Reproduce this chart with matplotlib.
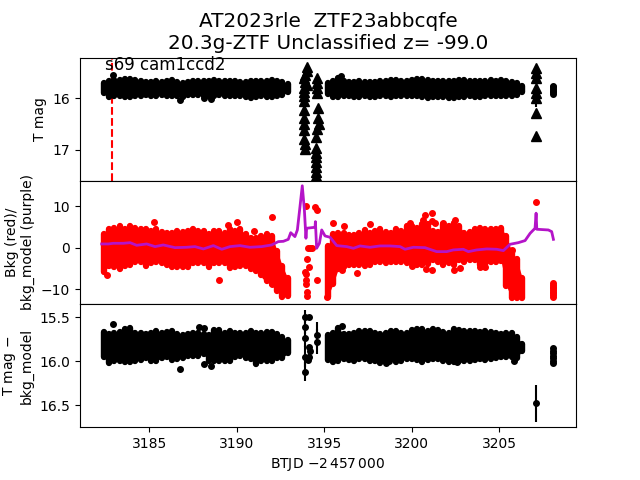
import matplotlib
matplotlib.use('Agg')
import matplotlib.pyplot as plt

#Time bins for the two orbits (values below are the edges of the dense cloud in each bin)
t1 = [3182.4, 3182.7, 3183.0, 3183.3, 3183.6, 3183.9, 3184.2, 3184.5, 3184.8, 3185.1, 3185.4, 3185.7,
      3186.0, 3186.3, 3186.6, 3186.9, 3187.2, 3187.5, 3187.8, 3188.1, 3188.4, 3188.7, 3189.0, 3189.3,
      3189.6, 3189.9, 3190.2, 3190.5, 3190.8, 3191.1, 3191.4, 3191.7, 3192.0, 3192.3, 3192.6, 3192.9]
t2 = [3195.2, 3195.5, 3195.8, 3196.1, 3196.4, 3196.7, 3197.0, 3197.3, 3197.6, 3197.9, 3198.2, 3198.5,
      3198.8, 3199.1, 3199.4, 3199.7, 3200.0, 3200.3, 3200.6, 3200.9, 3201.2, 3201.5, 3201.8, 3202.1,
      3202.4, 3202.7, 3203.0, 3203.3, 3203.6, 3203.9, 3204.2, 3204.5, 3204.8, 3205.1, 3205.4, 3205.7,
      3206.0, 3206.3]

#Top panel: T mag
mag_hi1 = [15.70, 15.67, 15.65, 15.64, 15.63, 15.62, 15.64, 15.67, 15.68, 15.68, 15.67, 15.68,
           15.66, 15.65, 15.68, 15.70, 15.69, 15.67, 15.67, 15.66, 15.66, 15.65, 15.66, 15.67,
           15.66, 15.67, 15.68, 15.68, 15.67, 15.66, 15.67, 15.66, 15.65, 15.67, 15.68, 15.73]
mag_lo1 = [15.90, 15.98, 15.96, 15.95, 15.97, 15.97, 15.96, 15.95, 15.94, 15.95, 15.95, 15.94,
           15.95, 15.96, 15.95, 15.97, 15.94, 15.93, 15.94, 15.95, 15.95, 15.95, 15.94, 15.95,
           15.95, 15.95, 15.96, 15.98, 15.99, 15.97, 15.96, 15.97, 15.98, 15.96, 15.94, 15.88]
mag_hi2 = [15.70, 15.67, 15.61, 15.66, 15.68, 15.68, 15.67, 15.68, 15.69, 15.68, 15.67, 15.66,
           15.65, 15.65, 15.67, 15.66, 15.64, 15.63, 15.63, 15.65, 15.67, 15.67, 15.66, 15.67,
           15.66, 15.65, 15.65, 15.66, 15.67, 15.67, 15.66, 15.65, 15.66, 15.65, 15.67, 15.68,
           15.70, 15.76]
mag_lo2 = [15.92, 15.97, 15.98, 15.96, 15.96, 15.97, 15.97, 15.96, 15.97, 15.97, 15.96, 15.96,
           15.97, 15.96, 15.96, 15.95, 15.95, 15.96, 15.98, 15.99, 15.97, 15.97, 15.98, 15.99,
           15.99, 15.98, 15.97, 15.96, 15.97, 15.97, 15.96, 15.96, 15.96, 15.95, 15.95, 15.95,
           15.94, 15.88]
#Rounded points outside the cloud
dot_t = [3182.95, 3186.75, 3188.1, 3188.5, 3195.95, 3208.05, 3208.05, 3208.05, 3208.05, 3208.05, 3208.05]
dot_mag = [15.55, 16.03, 16.0, 16.02, 15.56, 15.76, 15.79, 15.82, 15.85, 15.88, 15.91]
#Triangles in the gaps
tri_t = [3193.99, 3194.03, 3193.9, 3193.84, 3193.9, 3193.99, 3193.84, 3193.84, 3193.84, 3193.84,
         3193.86, 3193.86, 3193.86, 3193.86, 3193.86, 3193.9, 3193.92,
         3194.6, 3194.6, 3194.6, 3194.6, 3194.66, 3194.66, 3194.72, 3194.6, 3194.52,
         3194.52, 3194.52, 3194.52, 3194.52, 3194.52, 3194.52, 3194.52,
         3207.1, 3207.1, 3207.1, 3207.1, 3207.1, 3207.1, 3207.1, 3207.1]
tri_mag = [15.39, 15.466, 15.55, 15.614, 15.679, 15.743, 15.808, 15.872, 15.956, 16.046,
           16.227, 16.388, 16.498, 16.614, 16.795, 16.885, 16.988,
           15.614, 15.711, 15.808, 15.905, 16.195, 16.388, 16.498, 16.601, 16.756,
           16.969, 17.066, 17.143, 17.227, 17.324, 17.42, 17.504,
           15.421, 15.518, 15.614, 15.808, 15.905, 16.0, 16.29, 16.73]
tri_err = [0.03] * 38 + [0.16, 0.03, 0.03]

#Middle panel: background in red, model in purple
bkg_hi1 = [3.2, 4.4, 4.8, 5.2, 4.4, 5.1, 4.8, 4.4, 4.4, 4.0, 4.4, 3.8,
           3.6, 3.6, 4.0, 3.8, 4.0, 4.4, 4.0, 4.0, 3.2, 4.0, 4.0, 3.6,
           4.4, 4.0, 4.4, 3.2, 2.4, 2.4, 2.8, 3.2, 2.8, -0.7, -4.4, -7.2]
bkg_lo1 = [-5.9, -4.3, -4.7, -5.1, -4.3, -4.1, -3.5, -3.5, -4.3, -3.8, -3.5, -3.8,
           -4.1, -4.7, -4.7, -4.7, -4.7, -3.8, -3.8, -3.8, -4.7, -3.8, -3.8, -3.8,
           -4.9, -4.7, -4.5, -4.3, -5.1, -5.6, -6.7, -8.0, -8.8, -10.4, -12.0, -11.6]
bkg_hi2 = [0.4, 3.2, 3.6, 3.6, 3.0, 3.0, 3.6, 4.3, 3.6, 4.0, 4.4, 3.8,
           3.6, 4.4, 4.0, 5.2, 5.2, 4.8, 5.6, 5.6, 4.0, 3.8, 5.6, 5.2,
           6.0, 5.2, 3.6, 3.8, 4.4, 4.8, 4.4, 4.6, 4.4, 4.8, 2.8, -0.8, -2.8, -7.2]
bkg_lo2 = [-11.8, -8.7, -5.1, -4.7, -4.1, -4.1, -4.1, -4.3, -4.1, -3.5, -3.5, -3.8,
           -3.5, -3.5, -3.4, -3.6, -4.0, -4.1, -4.1, -4.0, -3.0, -3.4, -4.2, -3.6,
           -4.2, -3.0, -3.4, -3.0, -3.0, -4.1, -4.2, -3.4, -3.4, -3.3, -9.2, -12.1, -12.1, -12.1]
red_t = [3192.03, 3185.29, 3190.0, 3189.5, 3191.0, 3189.0, 3182.6, 3191.6, 3192.03,
         3193.94, 3194.49, 3194.6, 3195.47, 3193.99, 3194.14, 3193.9, 3193.94, 3193.96, 3193.94,
         3193.99, 3193.99, 3194.57, 3194.09, 3194.2, 3194.3, 3195.18,
         3196.12, 3197.6, 3200.75, 3201.13, 3200.66, 3201.13, 3201.3, 3199.9, 3202.47, 3201.76,
         3196.85, 3196.03, 3200.0, 3201.13, 3200.79, 3202.43, 3202.77, 3203.9, 3204.2, 3205.75,
         3207.12, 3208.05, 3208.05, 3208.05, 3208.05, 3208.05, 3208.05, 3208.05, 3208.05, 3208.05]
red_v = [7.3, 6.1, 6.1, 5.5, 3.9, -7.8, -6.7, -6.8, -8.7,
         10.0, 9.7, 9.1, 5.9, -2.8, -4.7, -5.8, -6.4, -7.8, -8.7,
         -10.6, -11.6, -7.9, -0.15, -0.15, -0.15, -12.0,
         5.3, 5.6, 7.9, 8.3, 6.7, 6.5, 6.0, 6.0, 6.7, 6.0,
         -6.0, -5.4, -4.3, -5.4, -5.2, -5.4, -5.0, -4.6, -4.7, -0.55,
         10.9, -8.6, -9.0, -9.4, -9.8, -10.2, -10.6, -11.0, -11.4, -11.8]
model_t = [3182.28, 3182.66, 3182.94, 3183.52, 3183.9, 3184.28, 3184.85, 3185.33, 3185.8, 3186.47,
           3187.14, 3187.61, 3188.09, 3188.66, 3189.14, 3189.61, 3190.18, 3190.75, 3191.42, 3191.99,
           3192.37, 3192.66, 3192.94, 3193.08, 3193.32, 3193.46, 3193.61, 3193.74, 3193.86, 3193.95,
           3193.99, 3194.47, 3194.49, 3194.56, 3194.72, 3194.85, 3195.04, 3195.33, 3195.71, 3196.28,
           3196.66, 3197.04, 3197.61, 3198.18, 3198.75, 3199.33, 3199.61, 3200.09, 3200.75, 3201.42,
           3201.99, 3202.37, 3202.94, 3203.23, 3203.7, 3204.28, 3204.85, 3205.23, 3205.61, 3206.09,
           3206.47, 3206.76, 3207.04, 3207.1, 3207.14, 3207.8, 3207.99, 3208.09]
model_v = [0.89, 0.89, 1.05, 1.05, 1.2, 0.57, 0.89, 0.25, 0.65, 0.0,
           0.09, 0.25, -0.31, 0.49, -0.39, 0.25, 0.49, 0.09, 0.25, 0.65,
           1.45, 1.53, 2.0, 3.6, 2.66, 4.26, 9.9, 14.9, 9.1, 2.26,
           4.67, 4.91, 6.27, -0.15, 1.05, 4.26, 2.82, 2.5, 0.49, 0.25,
           -0.15, 0.41, 0.09, 0.41, 0.41, 0.25, -0.39, 0.09, 0.0, -0.96,
           -0.96, -0.55, -0.39, -0.96, -0.55, -0.31, -0.39, -0.71, 0.81, 1.21,
           1.7, 3.46, 4.67, 8.3, 4.43, 4.26, 3.86, 2.0]

#Bottom panel: T mag - bkg_model
sub_hi1 = [15.667, 15.693, 15.682, 15.663, 15.637, 15.618, 15.675, 15.682, 15.69, 15.675, 15.656, 15.682,
           15.667, 15.656, 15.69, 15.705, 15.693, 15.682, 15.675, 15.69, 15.705, 15.644, 15.644, 15.675,
           15.656, 15.682, 15.682, 15.675, 15.652, 15.675, 15.682, 15.663, 15.663, 15.69, 15.72, 15.758]
sub_lo1 = [15.955, 16.023, 15.993, 15.993, 16.008, 16.008, 15.993, 15.985, 15.966, 15.993, 15.993, 15.966,
           15.955, 15.985, 15.978, 15.966, 15.94, 15.936, 15.936, 15.917, 15.993, 16.0, 16.0, 15.993,
           15.993, 15.947, 15.94, 15.966, 15.978, 16.031, 15.993, 15.993, 15.993, 15.966, 15.963, 15.91]
sub_hi2 = [15.701, 15.675, 15.625, 15.69, 15.693, 15.682, 15.656, 15.656, 15.656, 15.682, 15.69, 15.675,
           15.652, 15.652, 15.682, 15.682, 15.644, 15.637, 15.637, 15.652, 15.637, 15.644, 15.663, 15.675,
           15.637, 15.644, 15.652, 15.659, 15.659, 15.667, 15.656, 15.663, 15.682, 15.69, 15.682, 15.675,
           15.72, 15.803]
sub_lo2 = [15.985, 16.012, 15.993, 15.974, 15.985, 15.993, 15.978, 15.978, 15.993, 15.993, 16.023, 16.004,
           15.974, 16.012, 15.993, 15.978, 15.974, 15.985, 16.012, 15.985, 15.978, 15.978, 15.993, 16.004,
           16.012, 16.0, 15.993, 15.993, 15.985, 15.978, 15.985, 15.978, 15.966, 15.955, 15.955, 15.955,
           15.966, 15.879]
sub_t = [3182.95, 3186.75, 3188.13, 3187.84, 3188.5, 3188.15,
         3193.9, 3193.9, 3193.9, 3193.9, 3193.9, 3194.15, 3194.57, 3194.57,
         3194.1, 3194.2, 3194.15, 3194.05,
         3196.0, 3198.5, 3198.7, 3202.6, 3205.85,
         3207.12, 3208.05, 3208.05, 3208.05, 3208.05, 3208.05, 3208.05, 3208.05]
sub_mag = [15.576, 16.088, 16.03, 15.614, 16.05, 15.62,
           15.493, 15.606, 15.739, 15.947, 16.118, 15.493, 15.70, 15.777,
           15.84, 15.88, 15.95, 15.99,
           15.60, 16.02, 16.0, 16.01, 16.0,
           16.478, 15.853, 15.88, 15.91, 15.94, 15.966, 15.995, 16.023]
sub_err = [0.01, 0.01, 0.01, 0.01, 0.01, 0.01,
           0.08, 0.08, 0.10, 0.12, 0.11, 0.02, 0.14, 0.14,
           0.02, 0.05, 0.05, 0.03,
           0.01, 0.01, 0.01, 0.01, 0.01,
           0.21, 0.01, 0.01, 0.01, 0.01, 0.01, 0.01, 0.01]

peak_t = 3182.87
title = 'AT2023rle  ZTF23abbcqfe\n20.3g-ZTF Unclassified z= -99.0'
purple = '#b414c8'

#Draw one filled cloud of round points between the two edges
def cloud(ax, t, lo, hi, color):
    ax.fill_between(t, lo, hi, color=color, linewidth=0, zorder=2)
    ax.vlines(t, lo, hi, color=color, linewidth=4.6, capstyle='round', zorder=2)

fig, axs = plt.subplots(3, 1, sharex=True)
fig.subplots_adjust(hspace=0)

ax = axs[0]
ax.axvline(peak_t, color='r', linestyle='--', zorder=1)
cloud(ax, t1, mag_lo1, mag_hi1, 'k')
cloud(ax, t2, mag_lo2, mag_hi2, 'k')
ax.plot(dot_t, dot_mag, 'o', color='k', ms=4)
ax.errorbar(tri_t, tri_mag, yerr=tri_err, fmt='^', color='k', ms=6.5)
ax.text(3182.48, 15.45, 's69 cam1ccd2', fontsize=12)
ax.set_title(title, fontsize=14.4)
ax.set_ylim(17.6, 15.21)
ax.set_yticks([16, 17])
ax.set_ylabel('T mag')

ax = axs[1]
cloud(ax, t1, bkg_lo1, bkg_hi1, 'r')
cloud(ax, t2, bkg_lo2, bkg_hi2, 'r')
ax.plot(red_t, red_v, 'o', color='r', ms=4)
ax.plot(model_t, model_v, color=purple, lw=2, zorder=3)
ax.set_ylim(-13.57, 16.1)
ax.set_yticks([-10, 0, 10])
ax.set_ylabel('Bkg (red)/\nbkg_model (purple)')

ax = axs[2]
cloud(ax, t1, sub_lo1, sub_hi1, 'k')
cloud(ax, t2, sub_lo2, sub_hi2, 'k')
ax.errorbar(sub_t, sub_mag, yerr=sub_err, fmt='o', color='k', ms=4, elinewidth=1.5)
ax.set_ylim(16.75, 15.35)
ax.set_yticks([15.5, 16.0, 16.5])
ax.set_ylabel('T mag $-$\nbkg_model')
ax.set_xlabel('BTJD $-2\\,457\\,000$')

ax.set_xlim(3181.04, 3209.38)
ax.set_xticks([3185, 3190, 3195, 3200, 3205])
axs[0].tick_params(axis='x', bottom=False)
axs[1].tick_params(axis='x', bottom=False)

plt.savefig('out.png', dpi=100)
